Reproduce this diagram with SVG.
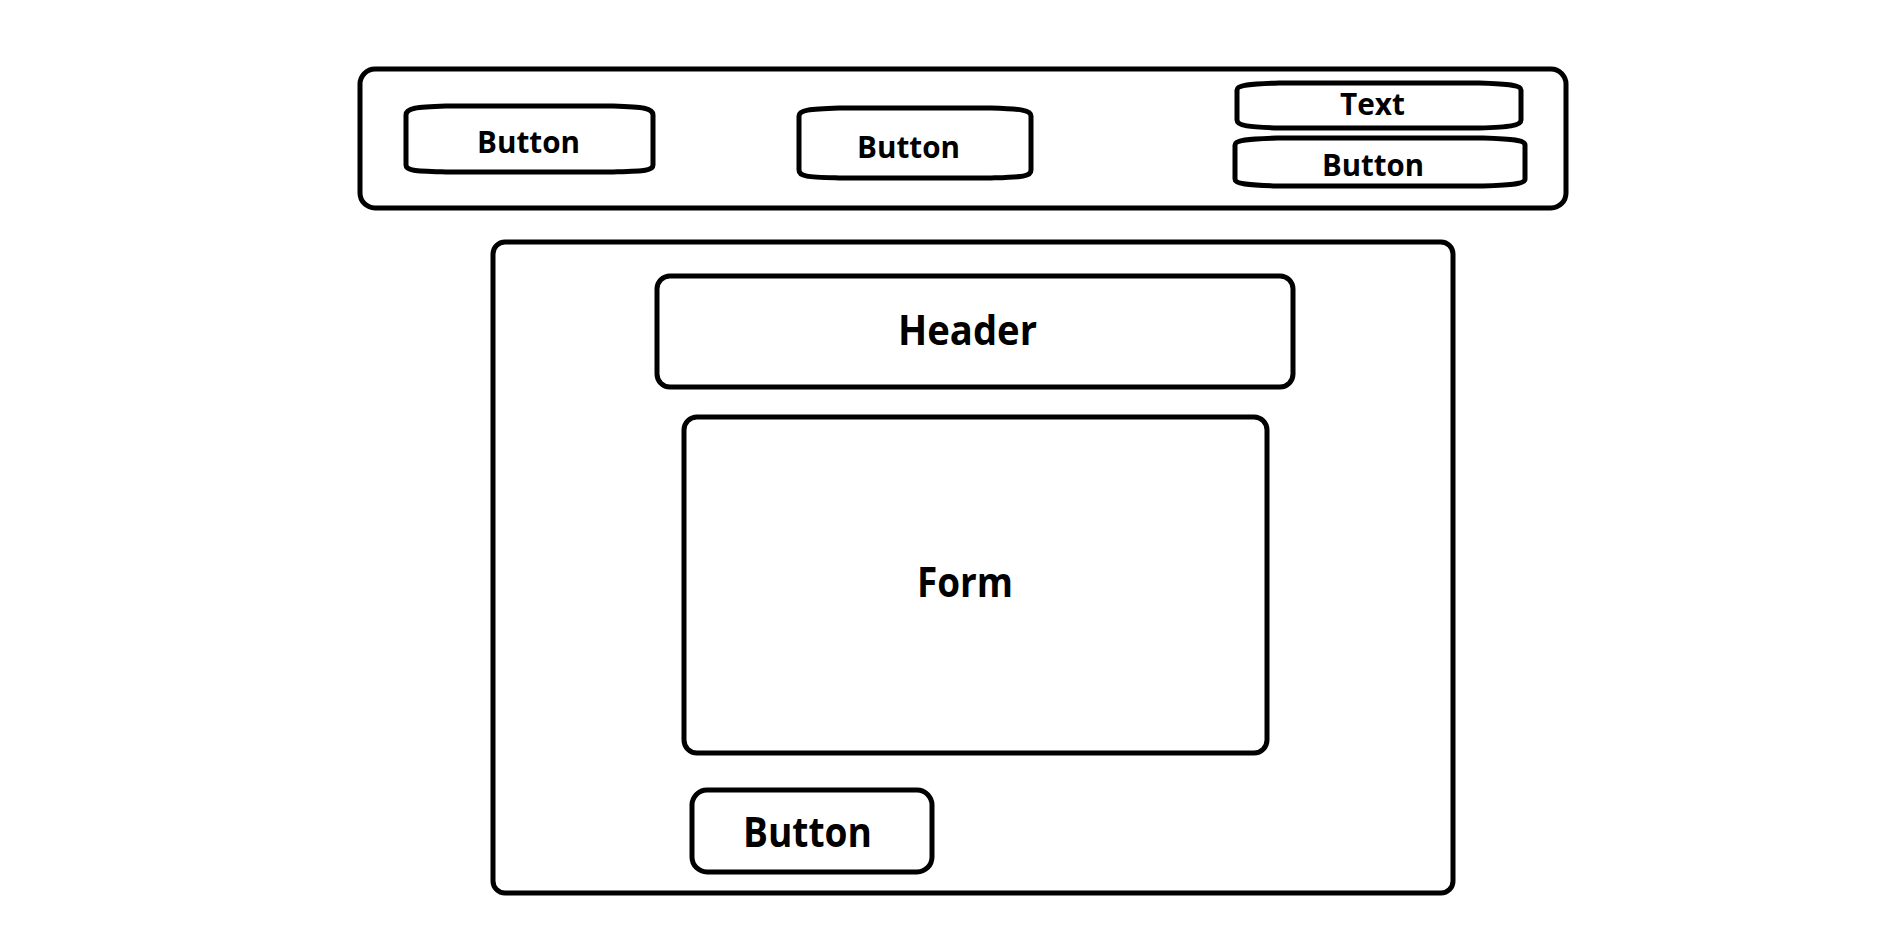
<svg xmlns="http://www.w3.org/2000/svg" width="1897" height="937" viewBox="0 0 1897 937">
<style>
.box{fill:none;stroke:#000;stroke-width:5;stroke-linejoin:round}
.lbl{font-family:"Open Sans","Liberation Sans",sans-serif;font-weight:700;fill:#000}
.s{font-size:31px}
.l{font-size:41px}
</style>
<rect width="1897" height="937" fill="#fff"/>
<g id="toolbar">
<rect class="box" x="360" y="69" width="1206" height="139" rx="15"/>
</g>
<g id="btn1">
<path class="box" d="M406,115 C406,108 416,107 446,106 L613,106 C643,107 653,108 653,115 L653,165 C653,171 643,171 613,172 L446,172 C416,171 406,171 406,165 Z"/>
<text class="lbl s" x="477" y="153" textLength="103" lengthAdjust="spacingAndGlyphs">Button</text>
</g>
<g id="btn2">
<path class="box" d="M799,116 C799,110 809,109 839,108 L991,108 C1021,109 1031,110 1031,116 L1031,170 C1031,177 1021,177 991,178 L839,178 C809,177 799,177 799,170 Z"/>
<text class="lbl s" x="857" y="158" textLength="103" lengthAdjust="spacingAndGlyphs">Button</text>
</g>
<g id="text">
<path class="box" d="M1237,90 C1237,85 1249,84 1279,83 L1479,83 C1509,84 1521,85 1521,90 L1521,120 C1521,126 1509,127 1479,128 L1279,128 C1249,127 1237,126 1237,120 Z"/>
<text class="lbl s" x="1340" y="115" textLength="65" lengthAdjust="spacingAndGlyphs">Text</text>
</g>
<g id="btn3">
<path class="box" d="M1235,145 C1235,140 1247,139 1277,138 L1483,138 C1513,139 1525,140 1525,145 L1525,179 C1525,184 1513,185 1483,186 L1277,186 C1247,185 1235,184 1235,179 Z"/>
<text class="lbl s" x="1322" y="176" textLength="102" lengthAdjust="spacingAndGlyphs">Button</text>
</g>
<g id="page">
<rect class="box" x="493" y="242" width="960" height="651" rx="12"/>
</g>
<g id="header">
<rect class="box" x="657" y="276" width="636" height="111" rx="13"/>
<text class="lbl l" x="898" y="345" textLength="139" lengthAdjust="spacingAndGlyphs">Header</text>
</g>
<g id="form">
<rect class="box" x="684" y="417" width="583" height="336" rx="13"/>
<text class="lbl l" x="917" y="597" textLength="96" lengthAdjust="spacingAndGlyphs">Form</text>
</g>
<g id="btn4">
<rect class="box" x="692" y="790" width="240" height="82" rx="15"/>
<text class="lbl l" x="743" y="847" textLength="129" lengthAdjust="spacingAndGlyphs">Button</text>
</g>
<g id="connectors"></g>
</svg>
